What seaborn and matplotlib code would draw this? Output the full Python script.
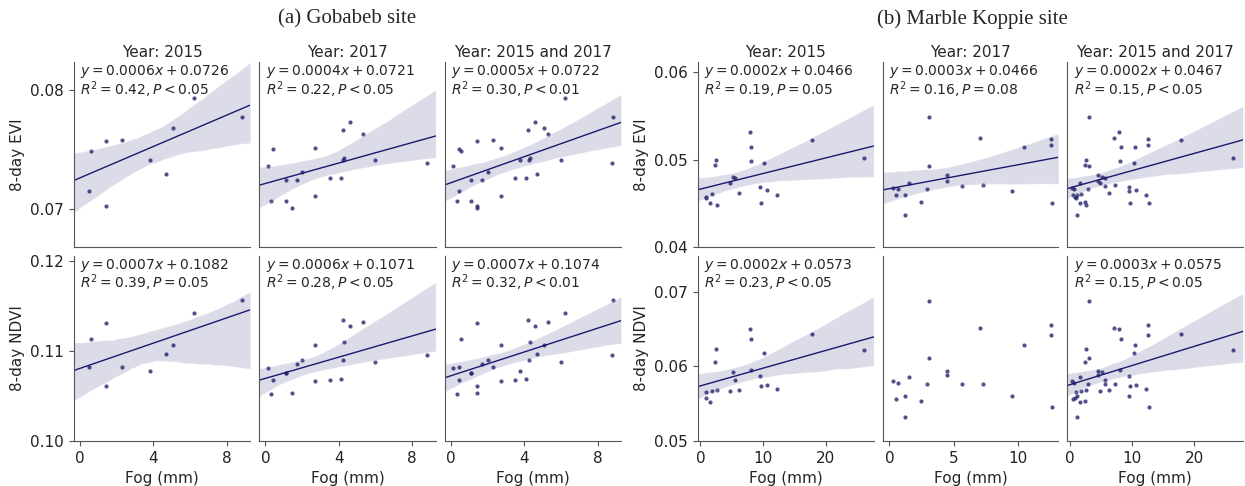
import pandas as pd
import matplotlib
matplotlib.use("Agg")
import matplotlib.pyplot as plt
import seaborn as sns

# ---- Gobabeb site ----
gob_fog_2015 = [0.58, 1.41, 2.28, 0.47, 1.41, 3.79, 4.69, 5.09, 6.21, 8.82]
gob_evi_2015 = [0.0749, 0.0757, 0.0758, 0.0715, 0.0703, 0.0741, 0.0729, 0.0768, 0.0793, 0.0777]
gob_ndvi_2015 = [0.1113, 0.1131, 0.1082, 0.1082, 0.1061, 0.1078, 0.1097, 0.1107, 0.1142, 0.1157]

gob_fog_2017 = [0.13, 0.42, 0.33, 1.12, 1.12, 1.43, 1.71, 2.02, 2.72, 2.72,
                3.51, 4.11, 4.22, 4.24, 4.31, 4.61, 5.32, 6.00, 8.79]
gob_evi_2017 = [0.0736, 0.0750, 0.0707, 0.0707, 0.0724, 0.0701, 0.0724, 0.0731, 0.0751, 0.0711,
                0.0726, 0.0726, 0.0766, 0.0741, 0.0743, 0.0773, 0.0763, 0.0741, 0.0739]
gob_ndvi_2017 = [0.1081, 0.1068, 0.1052, 0.1075, 0.1075, 0.1053, 0.1086, 0.1090, 0.1107, 0.1066,
                 0.1068, 0.1069, 0.1134, 0.1090, 0.1110, 0.1128, 0.1132, 0.1088, 0.1095]

# ---- Marble Koppie site ----
mk_fog_2015 = [0.81, 0.90, 1.55, 1.81, 2.34, 2.55, 2.60, 4.76, 5.13, 5.55, 6.18,
               7.86, 8.12, 8.07, 9.43, 9.70, 10.2, 10.6, 12.27, 17.8, 26.15]
mk_evi_2015 = [0.0457, 0.0456, 0.0450, 0.0461, 0.0494, 0.0500, 0.0448, 0.0473, 0.0480, 0.0479, 0.0462,
               0.0532, 0.0514, 0.0498, 0.0469, 0.0451, 0.0496, 0.0465, 0.0460, 0.0522, 0.0502]
mk_ndvi_2015 = [0.0557, 0.0565, 0.0552, 0.0567, 0.0606, 0.0623, 0.0569, 0.0567, 0.0593, 0.0582, 0.0568,
                0.0650, 0.0637, 0.0595, 0.0587, 0.0574, 0.0618, 0.0575, 0.0570, 0.0643, 0.0622]

mk_fog_2017 = [0.26, 0.69, 0.49, 1.18, 1.18, 1.52, 2.47, 2.90, 3.08, 3.08,
               4.50, 4.50, 5.63, 7.02, 7.30, 9.51, 10.44, 12.54, 12.54, 12.65]
mk_evi_2017 = [0.0468, 0.0467, 0.0460, 0.0460, 0.0437, 0.0473, 0.0452, 0.0467, 0.0549, 0.0493,
               0.0483, 0.0476, 0.0470, 0.0525, 0.0471, 0.0464, 0.0514, 0.0524, 0.0517, 0.0450]
mk_ndvi_2017 = [0.0580, 0.0578, 0.0556, 0.0560, 0.0532, 0.0586, 0.0554, 0.0577, 0.0688, 0.0612,
                0.0594, 0.0588, 0.0577, 0.0652, 0.0576, 0.0560, 0.0629, 0.0656, 0.0642, 0.0546]

col_titles = ["Year: 2015", "Year: 2017", "Year: 2015 and 2017"]

gob_eq = [["0.0006x + 0.0726", "0.0004x + 0.0721", "0.0005x + 0.0722"],
          ["0.0007x + 0.1082", "0.0006x + 0.1071", "0.0007x + 0.1074"]]
gob_stats = [["0.42, P < 0.05", "0.22, P < 0.05", "0.30, P < 0.01"],
             ["0.39, P = 0.05", "0.28, P < 0.05", "0.32, P < 0.01"]]
mk_eq = [["0.0002x + 0.0466", "0.0003x + 0.0466", "0.0002x + 0.0467"],
         ["0.0002x + 0.0573", None, "0.0003x + 0.0575"]]
mk_stats = [["0.19, P = 0.05", "0.16, P = 0.08", "0.15, P < 0.05"],
            ["0.23, P < 0.05", None, "0.15, P < 0.05"]]

sns.set_style("ticks")
plt.rcParams["font.family"] = ["DejaVu Sans"]
plt.rcParams["axes.edgecolor"] = "#555555"
plt.rcParams["xtick.color"] = "#555555"
plt.rcParams["ytick.color"] = "#555555"
plt.rcParams["xtick.labelcolor"] = "#222222"
plt.rcParams["ytick.labelcolor"] = "#222222"

point_color = "#26266e"
line_color = "midnightblue"


def make_frame(f15, e15, n15, f17, e17, n17):
    a = pd.DataFrame({"fog": f15, "EVI": e15, "NDVI": n15, "year": 2015})
    b = pd.DataFrame({"fog": f17, "EVI": e17, "NDVI": n17, "year": 2017})
    return pd.concat([a, b], ignore_index=True)


def draw_site(fig, df, left, right, xlims, ylims, xticks, yticks, eqs, stats):
    gs = fig.add_gridspec(2, 3, left=left, right=right, bottom=0.093, top=0.872,
                          wspace=0.052, hspace=0.045)
    axes = gs.subplots(sharex="col", sharey="row")
    for r, var in enumerate(["EVI", "NDVI"]):
        for c in range(3):
            ax = axes[r, c]
            ax.set_xlim(xlims[c])
            ax.set_ylim(ylims[r])
            sub = df if c == 2 else df[df["year"] == [2015, 2017][c]]
            sns.regplot(data=sub, x="fog", y=var, ax=ax, truncate=False, seed=0,
                        fit_reg=eqs[r][c] is not None, color=line_color,
                        scatter_kws=dict(s=9, color=point_color, linewidths=0),
                        line_kws=dict(lw=1))
            ax.set_xlim(xlims[c])
            ax.set_ylim(ylims[r])
            ax.set_xticks(xticks[c])
            ax.set_yticks(yticks[r])
            ax.tick_params(labelsize=11)
            if r == 0:
                ax.set_title(col_titles[c], fontsize=11, pad=4)
                ax.tick_params(bottom=False)
                ax.set_xlabel("")
            else:
                ax.set_xlabel("Fog (mm)", fontsize=11)
            if c == 0:
                ax.set_ylabel("8-day " + var, fontsize=11)
            else:
                ax.set_ylabel("")
                ax.tick_params(left=False)
            if eqs[r][c] is not None:
                txt = "$y = " + eqs[r][c] + "$\n$R^2 = " + stats[r][c] + "$"
                ax.text(0.035, 0.995, txt, transform=ax.transAxes, ha="left", va="top",
                        fontsize=10, linespacing=0.95)
            sns.despine(ax=ax)
    return axes


fig = plt.figure(figsize=(12.45, 4.86), dpi=100)

gob = make_frame(gob_fog_2015, gob_evi_2015, gob_ndvi_2015,
                 gob_fog_2017, gob_evi_2017, gob_ndvi_2017)
mk = make_frame(mk_fog_2015, mk_evi_2015, mk_ndvi_2015,
                mk_fog_2017, mk_evi_2017, mk_ndvi_2017)

draw_site(fig, gob, 0.0594, 0.4988,
          [(-0.33, 9.28)] * 3,
          [(0.0668, 0.0823), (0.10, 0.1206)],
          [[0, 4, 8]] * 3,
          [[0.07, 0.08], [0.10, 0.11, 0.12]],
          gob_eq, gob_stats)

draw_site(fig, mk, 0.5606, 0.9984,
          [(-0.4, 27.6), (-0.52, 13.1), (-0.43, 27.8)],
          [(0.04, 0.0611), (0.05, 0.0749)],
          [[0, 10, 20], [0, 5, 10], [0, 10, 20]],
          [[0.04, 0.05, 0.06], [0.05, 0.06, 0.07]],
          mk_eq, mk_stats)

fig.text(347 / 1245, 1 - 19 / 486, "(a) Gobabeb site", ha="center", va="center",
         fontsize=15, family="Liberation Serif")
fig.text(972 / 1245, 1 - 19 / 486, "(b) Marble Koppie site", ha="center", va="center",
         fontsize=15, family="Liberation Serif")

fig.savefig("out.png", dpi=100)
